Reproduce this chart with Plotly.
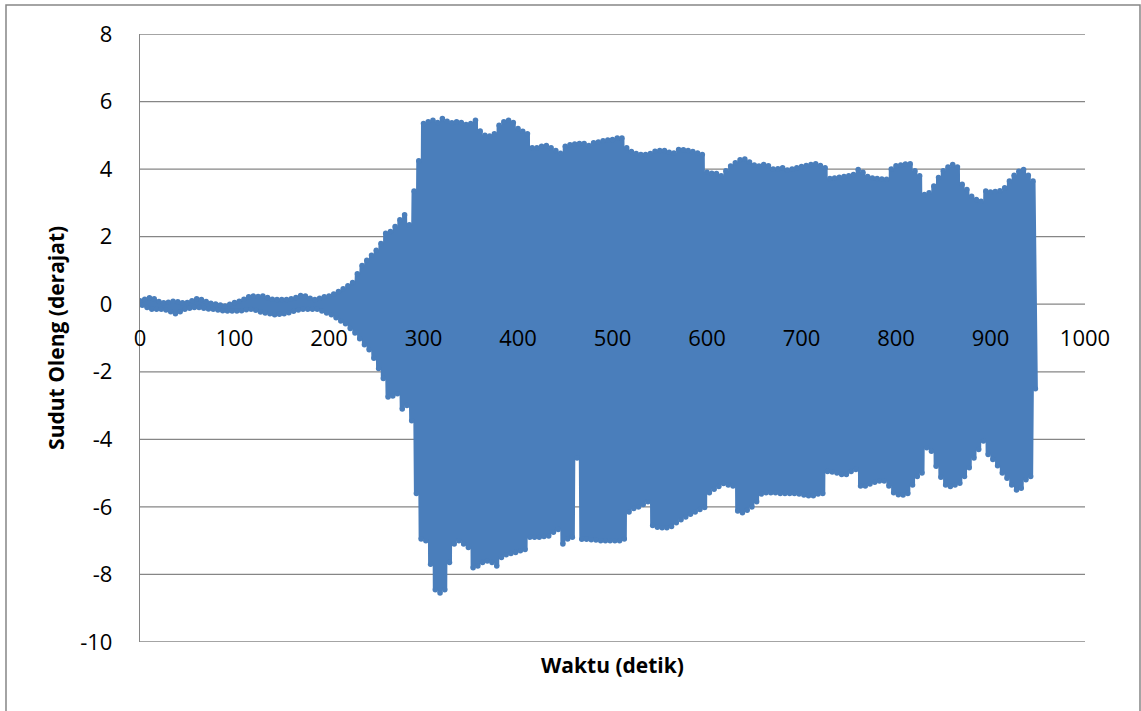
import numpy as np
import plotly.graph_objects as go

# Roll angle record: crest values (deg) every 5 s starting at t = 0 s
peak_deg = [
    0.10, 0.15, 0.19, 0.16, 0.08, 0.04, 0.06, 0.09, 0.07, 0.04,
    0.05, 0.10, 0.16, 0.14, 0.08, 0.03, 0.01, -0.02, -0.05, 0.00,
    0.05, 0.09, 0.15, 0.22, 0.24, 0.23, 0.24, 0.20, 0.15, 0.14,
    0.14, 0.14, 0.16, 0.20, 0.26, 0.24, 0.18, 0.14, 0.18, 0.22,
    0.24, 0.30, 0.38, 0.46, 0.55, 0.64, 0.90, 1.15, 1.30, 1.45,
    1.60, 1.80, 2.10, 2.15, 2.30, 2.50, 2.65, 2.35, 3.35, 4.25,
    5.35, 5.40, 5.45, 5.38, 5.50, 5.42, 5.37, 5.40, 5.38, 5.32,
    5.35, 5.45, 5.13, 5.00, 4.98, 5.05, 5.30, 5.40, 5.45, 5.38,
    5.20, 5.12, 5.05, 4.63, 4.63, 4.68, 4.70, 4.63, 4.55, 4.47,
    4.68, 4.72, 4.74, 4.76, 4.76, 4.70, 4.78, 4.80, 4.84, 4.86,
    4.88, 4.92, 4.92, 4.63, 4.52, 4.46, 4.43, 4.43, 4.46, 4.53,
    4.55, 4.55, 4.50, 4.48, 4.58, 4.57, 4.55, 4.52, 4.48, 4.43,
    3.91, 3.88, 3.87, 3.80, 3.95, 4.09, 4.19, 4.28, 4.30, 4.21,
    4.12, 4.09, 4.14, 4.10, 4.00, 4.01, 4.04, 3.97, 4.00, 4.04,
    4.08, 4.11, 4.14, 4.16, 4.11, 4.04, 3.72, 3.74, 3.76, 3.78,
    3.80, 3.84, 3.99, 3.91, 3.78, 3.74, 3.72, 3.71, 3.70, 4.00,
    4.10, 4.12, 4.15, 4.16, 3.95, 3.80, 3.25, 3.30, 3.50, 3.75,
    3.95, 4.06, 4.14, 4.06, 3.55, 3.40, 3.20, 3.10, 3.05, 3.35,
    3.32, 3.34, 3.36, 3.45, 3.65, 3.82, 3.94, 3.99, 3.82, 3.65,
]

# Trough values (deg) every 5 s starting at t = 2.5 s
trough_deg = [
    -0.03, -0.10, -0.15, -0.15, -0.15, -0.17, -0.22, -0.28, -0.22, -0.15,
    -0.12, -0.10, -0.10, -0.12, -0.14, -0.15, -0.17, -0.19, -0.20, -0.20,
    -0.20, -0.19, -0.16, -0.15, -0.18, -0.23, -0.26, -0.28, -0.31, -0.30,
    -0.28, -0.25, -0.21, -0.17, -0.15, -0.15, -0.15, -0.15, -0.20, -0.26,
    -0.31, -0.40, -0.50, -0.58, -0.72, -0.85, -1.02, -1.20, -1.35, -1.60,
    -1.90, -2.20, -2.75, -2.72, -2.65, -3.10, -3.00, -3.45, -5.60, -6.95,
    -7.00, -7.70, -8.45, -8.55, -8.45, -7.65, -7.10, -7.00, -7.10, -7.20,
    -7.80, -7.75, -7.65, -7.60, -7.65, -7.75, -7.50, -7.42, -7.38, -7.35,
    -7.30, -7.26, -6.90, -6.90, -6.90, -6.88, -6.86, -6.75, -6.67, -7.10,
    -6.95, -6.90, -4.55, -6.96, -6.96, -6.97, -6.98, -7.00, -7.00, -7.00,
    -7.00, -7.00, -6.95, -6.15, -6.05, -6.00, -5.93, -5.85, -6.55, -6.60,
    -6.62, -6.62, -6.58, -6.47, -6.38, -6.30, -6.22, -6.15, -6.08, -6.02,
    -5.58, -5.48, -5.40, -5.31, -5.35, -5.38, -6.12, -6.17, -6.10, -6.00,
    -5.85, -5.62, -5.58, -5.58, -5.58, -5.60, -5.60, -5.60, -5.60, -5.62,
    -5.65, -5.67, -5.67, -5.62, -5.60, -4.95, -4.97, -5.00, -5.04, -5.04,
    -4.95, -4.89, -5.38, -5.38, -5.32, -5.27, -5.23, -5.23, -5.38, -5.58,
    -5.64, -5.65, -5.60, -5.35, -5.10, -5.00, -4.25, -4.35, -4.80, -5.12,
    -5.35, -5.40, -5.35, -5.30, -5.10, -4.84, -4.55, -4.30, -4.05, -4.45,
    -4.60, -4.78, -5.00, -5.15, -5.35, -5.50, -5.45, -5.20, -5.10, -2.50,
]

x_ticks = [0, 100, 200, 300, 400, 500, 600, 700, 800, 900, 1000]
y_ticks = [-10, -8, -6, -4, -2, 0, 2, 4, 6, 8]
y_tick_text = [str(v) for v in y_ticks]

# Interleave crests and troughs into one time series
t_peak = np.arange(len(peak_deg)) * 5.0
t_trough = t_peak + 2.5
t = np.empty(len(peak_deg) + len(trough_deg))
roll = np.empty_like(t)
t[0::2], t[1::2] = t_peak, t_trough
roll[0::2], roll[1::2] = peak_deg, trough_deg

blue = "#4a7ebb"
grey = "#868686"
font = "Open Sans, Lato, sans-serif"

fig = go.Figure(go.Scatter(
    x=t, y=roll, mode="lines+markers",
    line=dict(color=blue, width=5),
    marker=dict(color=blue, size=5.5, line=dict(width=0)),
    hoverinfo="skip", showlegend=False,
))

# Horizontal rules: every y tick, drawn underneath the series
rules = [
    dict(type="line", xref="paper", yref="y", x0=0, x1=1, y0=v, y1=v,
         line=dict(color=grey, width=1.3), layer="below")
    for v in y_ticks
]

fig.update_layout(
    width=1141, height=711,
    margin=dict(l=140, r=56, t=34, b=69),
    paper_bgcolor="white", plot_bgcolor="white",
    font=dict(family=font, size=22, color="black"),
    xaxis=dict(
        range=[0, 1000], tickvals=x_ticks, ticktext=[str(v) for v in x_ticks],
        anchor="free", position=10 / 18,
        showgrid=False, zeroline=False, showline=False,
        ticks="outside", ticklen=14, tickcolor="rgba(0,0,0,0)",
        tickfont=dict(family=font, size=22, color="black"),
    ),
    yaxis=dict(
        range=[-10, 8], tickvals=y_ticks, ticktext=y_tick_text,
        showgrid=False, zeroline=False,
        showline=True, linecolor=grey, linewidth=1.3,
        ticks="outside", ticklen=22, tickcolor="rgba(0,0,0,0)",
        tickfont=dict(family=font, size=22, color="black"),
    ),
    annotations=[
        dict(text="<b>Waktu (detik)</b>", xref="paper", yref="paper",
             x=0.5, y=-0.038, xanchor="center", yanchor="middle",
             showarrow=False, font=dict(family=font, size=21, color="black")),
        dict(text="<b>Sudut Oleng (derajat)</b>", xref="paper", yref="paper",
             x=-0.089, y=0.5, xanchor="center", yanchor="middle", textangle=-90,
             showarrow=False, font=dict(family=font, size=21, color="black")),
    ],
    shapes=rules + [
        dict(type="rect", xref="paper", yref="paper",
             x0=-0.1418, x1=1.0582, y0=-0.13, y1=1.0477,
             line=dict(color=grey, width=1.5), fillcolor="rgba(0,0,0,0)",
             layer="below"),
    ],
)

fig.write_html("out.html")
